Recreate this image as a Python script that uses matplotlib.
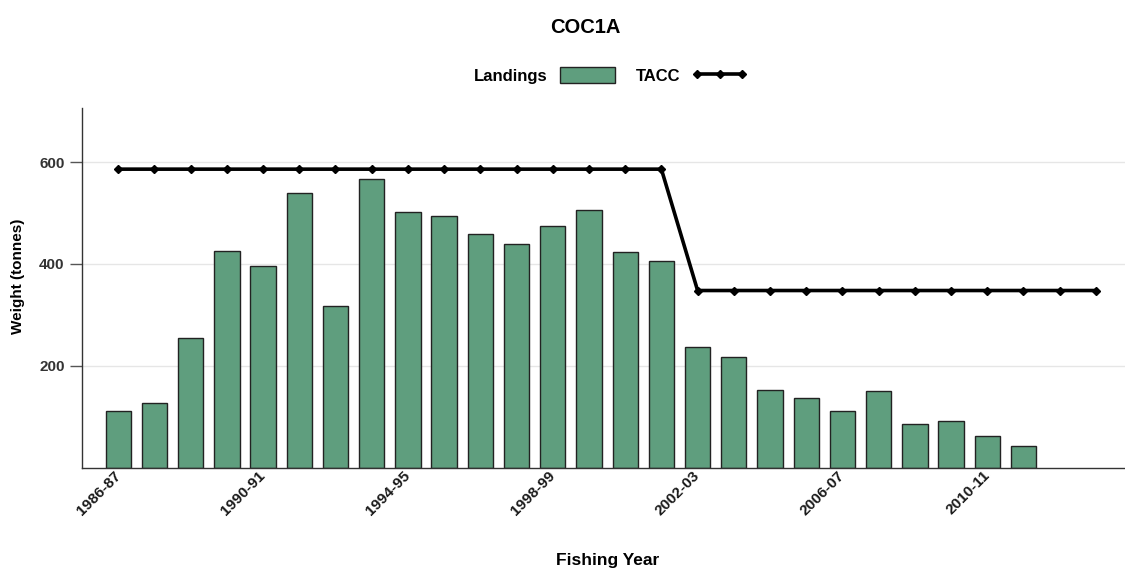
import matplotlib
matplotlib.use("Agg")
import matplotlib.pyplot as plt
import numpy as np

plt.rcParams['font.family'] = ['Liberation Sans', 'DejaVu Sans']

years = ["1986-87", "1987-88", "1988-89", "1989-90", "1990-91", "1991-92", "1992-93",
         "1993-94", "1994-95", "1995-96", "1996-97", "1997-98", "1998-99", "1999-00",
         "2000-01", "2001-02", "2002-03", "2003-04", "2004-05", "2005-06", "2006-07",
         "2007-08", "2008-09", "2009-10", "2010-11", "2011-12", "2012-13", "2013-14"]
landings = [112, 128, 254, 426, 397, 539, 318, 567, 502, 495, 459, 439, 474, 506,
            424, 406, 237, 218, 152, 137, 111, 150, 87, 92, 63, 44]
tacc = [586] * 16 + [348] * 12
tick_labels = ["1986-87", "1990-91", "1994-95", "1998-99", "2002-03", "2006-07", "2010-11"]

fig = plt.figure(figsize=(11.25, 5.7), dpi=100)
ax = fig.add_axes([0.0729, 0.179, 0.927, 0.6316])

x_all = np.arange(len(years))
x_land = np.arange(len(landings))

bars = ax.bar(x_land, landings, width=0.7, color='#5f9e7e', edgecolor='#222222',
              linewidth=1.0, label='Landings', zorder=2)
line, = ax.plot(x_all, tacc, color='black', linewidth=2.6, marker='D', markersize=4,
                label='TACC', zorder=3)

ax.set_xlim(-1, 27.8)
ax.set_ylim(0, 706)
ax.set_yticks([200, 400, 600])
ax.yaxis.grid(True, color='#e6e6e6', linewidth=1, zorder=0)
ax.set_axisbelow(True)

tick_pos = [years.index(t) for t in tick_labels]
ax.set_xticks(tick_pos)
ax.set_xticklabels(tick_labels, rotation=45, ha='right', va='center',
                   rotation_mode='anchor', fontsize=11, fontweight='bold',
                   color='#1a1a1a')
ax.tick_params(axis='x', length=0, pad=4)
ax.tick_params(axis='y', length=9, width=1, color='#555555', pad=3.5,
               labelsize=11, labelcolor='#333333')
for lab in ax.get_yticklabels():
    lab.set_fontweight('bold')

for s in ['top', 'right']:
    ax.spines[s].set_visible(False)
for s in ['left', 'bottom']:
    ax.spines[s].set_color('#333333')
    ax.spines[s].set_linewidth(1.0)

ax.set_ylabel('Weight (tonnes)', fontsize=11, fontweight='bold')
ax.yaxis.set_label_coords(-0.0545, 0.532)
ax.set_xlabel('Fishing Year', fontsize=12.5, fontweight='bold')
ax.xaxis.set_label_coords(0.504, -0.236)

fig.text(0.52, 0.952, 'COC1A', ha='center', va='center', fontsize=14.5, fontweight='bold')

leg = fig.legend([bars, line], ['Landings', 'TACC'], loc='center',
                 bbox_to_anchor=(0.543, 0.868), ncol=2, frameon=False,
                 markerfirst=False, numpoints=3, handlelength=3.3, handleheight=1.15,
                 columnspacing=1.3, handletextpad=0.7,
                 prop={'weight': 'bold', 'size': 12})

fig.savefig('out.png', dpi=100)
